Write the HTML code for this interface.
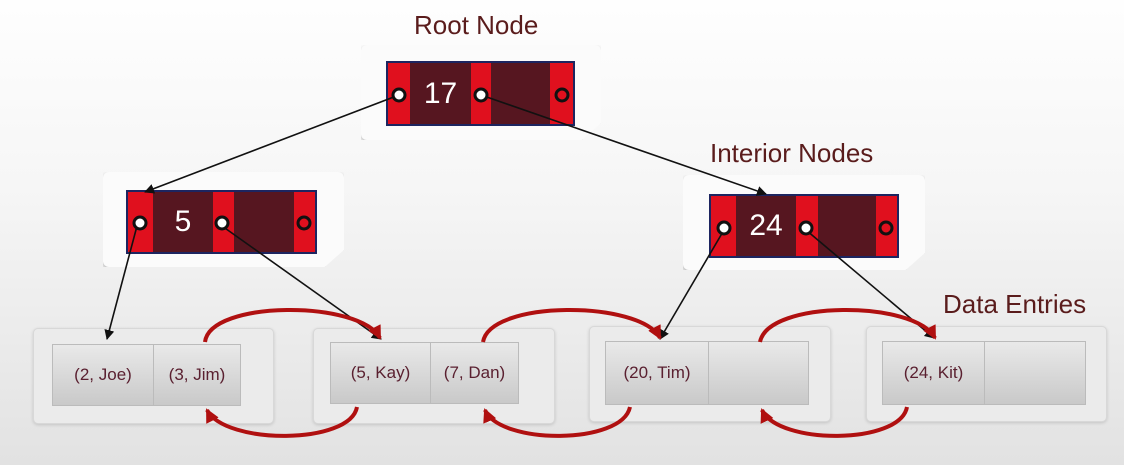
<!DOCTYPE html>
<html><head><style>
body{margin:0;width:1124px;height:465px;overflow:hidden;background:linear-gradient(#fefefe 0%,#f6f6f6 40%,#e2e2e2 100%);font-family:"Liberation Sans",sans-serif;position:relative}
.card{position:absolute;background:#fbfbfb;border-radius:6px;box-shadow:0 2px 4px rgba(0,0,0,.25);clip-path:polygon(0 0,100% 0,100% 82%,92% 100%,0 100%)}
.lcard{position:absolute;background:#ebebeb;border:1px solid #d8d8d8;border-radius:5px;box-shadow:0 1px 3px rgba(0,0,0,.15)}
.node{position:absolute;border:2px solid #1d2560;display:flex;box-sizing:border-box}
.r{background:#e0101e}.d{background:#561620;color:#fff;font-size:30px;display:flex;align-items:center;justify-content:center}
.cell{position:absolute;background:linear-gradient(#e9e9e9,#c9c9c9);border:1px solid #bbb;box-sizing:border-box;color:#5a2030;font-size:17px;display:flex;align-items:center;justify-content:center}
.lab{position:absolute;color:#5a1c1c;font-size:26px}
</style></head><body>
<div class="lab" style="left:414px;top:10px">Root Node</div>
<div class="lab" style="left:710px;top:138px">Interior Nodes</div>
<div class="lab" style="left:943px;top:289px">Data Entries</div>

<div class="card" style="left:361px;top:45px;width:240px;height:95px"></div>
<div class="node" style="left:386px;top:61px;width:189px;height:65px"><div class="r" style="width:22px"></div><div class="d" style="width:61px">17</div><div class="r" style="width:20px"></div><div class="d" style="width:59px"></div><div class="r" style="flex:1"></div></div>

<div class="card" style="left:103px;top:172px;width:241px;height:95px"></div>
<div class="node" style="left:126px;top:190px;width:191px;height:64px"><div class="r" style="width:25px"></div><div class="d" style="width:60px">5</div><div class="r" style="width:21px"></div><div class="d" style="width:60px"></div><div class="r" style="flex:1"></div></div>

<div class="card" style="left:683px;top:175px;width:242px;height:95px"></div>
<div class="node" style="left:709px;top:194px;width:190px;height:64px"><div class="r" style="width:25px"></div><div class="d" style="width:60px">24</div><div class="r" style="width:22px"></div><div class="d" style="width:58px"></div><div class="r" style="flex:1"></div></div>

<div class="lcard" style="left:33px;top:328px;width:239px;height:94px"></div>
<div class="cell" style="left:52px;top:344px;width:102px;height:62px">(2, Joe)</div>
<div class="cell" style="left:153px;top:344px;width:88px;height:62px">(3, Jim)</div>
<div class="lcard" style="left:313px;top:328px;width:240px;height:94px"></div>
<div class="cell" style="left:330px;top:342px;width:101px;height:62px">(5, Kay)</div>
<div class="cell" style="left:430px;top:342px;width:89px;height:62px">(7, Dan)</div>
<div class="lcard" style="left:589px;top:326px;width:240px;height:94px"></div>
<div class="cell" style="left:605px;top:341px;width:104px;height:64px">(20, Tim)</div>
<div class="cell" style="left:708px;top:341px;width:101px;height:64px"></div>
<div class="lcard" style="left:866px;top:326px;width:239px;height:94px"></div>
<div class="cell" style="left:882px;top:341px;width:103px;height:64px">(24, Kit)</div>
<div class="cell" style="left:984px;top:341px;width:102px;height:64px"></div>

<svg width="1124" height="465" style="position:absolute;left:0;top:0">
<defs>
<marker id="b" markerWidth="10" markerHeight="10" refX="9" refY="5" orient="auto" markerUnits="userSpaceOnUse"><path d="M0,0L10,5L0,10z" fill="#111"/></marker>
<marker id="rd" markerWidth="14" markerHeight="14" refX="12" refY="7" orient="auto" markerUnits="userSpaceOnUse"><path d="M0,0L14,7L0,14z" fill="#b01010"/></marker>
</defs>
<g stroke="#111" stroke-width="1.6" fill="none" marker-end="url(#b)">
<line x1="399" y1="95" x2="145" y2="192"/>
<line x1="481" y1="95" x2="766" y2="194"/>
<line x1="137" y1="226" x2="107" y2="339"/>
<line x1="222" y1="226" x2="381" y2="339"/>
<line x1="724" y1="230" x2="660" y2="339"/>
<line x1="806" y1="230" x2="934" y2="338"/>
</g>
<g stroke="#b01010" stroke-width="4" fill="none" marker-end="url(#rd)">
<path d="M205,342 C210,300 360,300 380,338"/>
<path d="M483,342 C490,300 640,300 660,338"/>
<path d="M760,342 C768,300 915,300 935,338"/>
<path d="M357,407 C350,445 225,445 207,410"/>
<path d="M630,407 C622,445 500,445 485,410"/>
<path d="M907,407 C900,445 778,445 762,410"/>
</g>
<g stroke="#111" stroke-width="3" fill="#fff">
<circle cx="399" cy="95" r="6"/><circle cx="481" cy="95" r="6"/><circle cx="562" cy="95" r="6" fill="#e0101e"/>
<circle cx="140" cy="223" r="6"/><circle cx="222" cy="223" r="6"/><circle cx="304" cy="223" r="6" fill="#e0101e"/>
<circle cx="724" cy="228" r="6"/><circle cx="806" cy="228" r="6"/><circle cx="886" cy="228" r="6" fill="#e0101e"/>
</g>
</svg>
</body></html>
